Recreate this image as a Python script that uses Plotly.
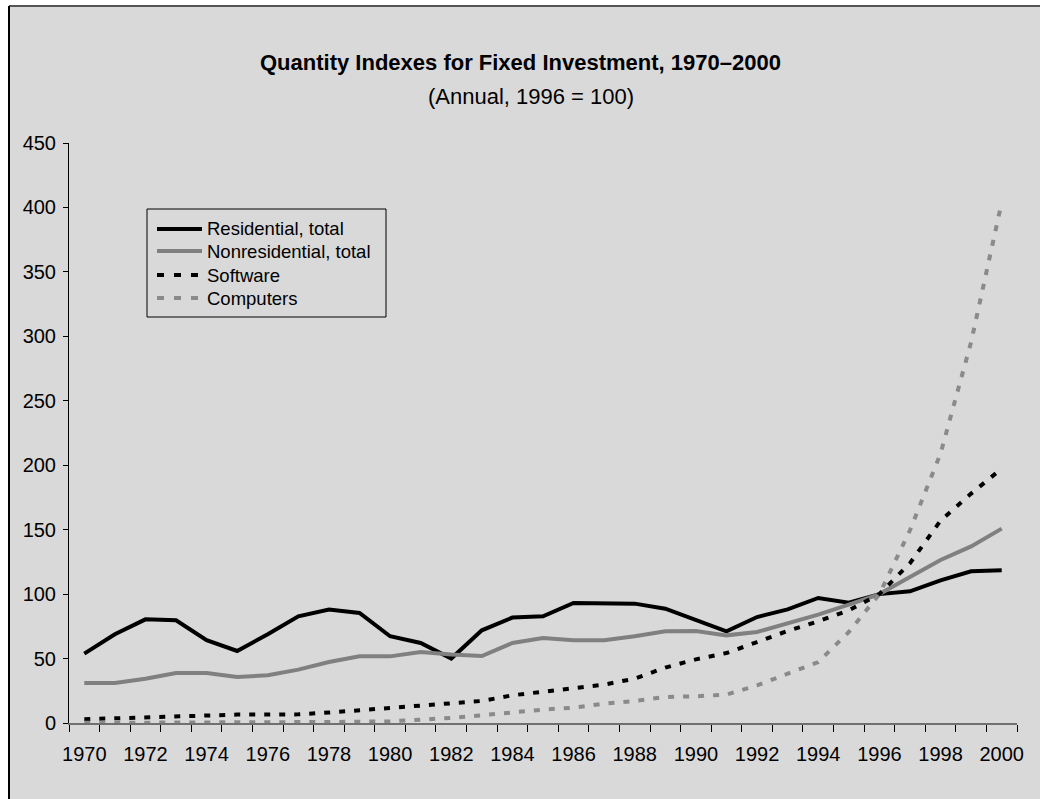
import plotly.graph_objects as go

years = list(range(1970, 2001))

residential = [53.8, 68.8, 80.4, 79.7, 64.2, 55.9, 68.8, 82.8, 88.0, 85.4,
               67.3, 62.1, 50.0, 71.9, 81.8, 82.8, 93.1, 93.1, 92.6, 88.7,
               80.0, 71.1, 82.2, 88.2, 97.0, 93.4, 100.0, 102.2, 110.7, 117.7,
               118.5]
nonresidential = [31.0, 31.0, 34.4, 38.8, 38.8, 35.7, 37.0, 41.4, 47.3, 51.7,
                  51.7, 55.1, 53.1, 52.0, 62.1, 66.0, 64.2, 64.2, 67.3, 71.1,
                  71.4, 68.0, 70.6, 77.1, 84.1, 91.8, 100.0, 113.3, 126.5, 137.0,
                  150.8]
software = [2.9, 3.6, 4.2, 5.2, 5.7, 6.5, 6.5, 6.7, 8.1, 9.9,
            11.6, 13.2, 15.0, 17.1, 21.5, 24.1, 26.7, 29.8, 34.4, 43.0,
            49.4, 54.3, 62.8, 71.4, 78.9, 87.4, 100.0, 124.0, 157.0, 178.0,
            197.4]
computers = [0.1, 0.1, 0.2, 0.2, 0.3, 0.3, 0.4, 0.6, 0.8, 1.0,
             1.3, 2.6, 3.9, 6.0, 8.5, 10.4, 11.9, 15.0, 17.1, 20.2,
             20.7, 22.0, 29.2, 38.3, 47.3, 70.6, 100.0, 149.5, 209.0, 295.6,
             404.0]

series_names = ["Residential, total", "Nonresidential, total", "Software", "Computers"]
series_values = [residential, nonresidential, software, computers]
series_colors = ["black", "#808080", "black", "#8a8a8a"]
series_dash = ["solid", "solid", "6px,9px", "6px,9px"]
legend_dash = ["solid", "solid", "7px,10px", "7px,10px"]

x_tick_vals = list(range(1970, 2001, 2))
x_tick_text = [str(v) for v in x_tick_vals]
y_tick_vals = list(range(0, 451, 50))

FONT = "Liberation Sans, Arial, sans-serif"
BG = "#d9d9d9"

fig = go.Figure()
for name, vals, col, dash in zip(series_names, series_values, series_colors, series_dash):
    fig.add_trace(go.Scatter(x=years, y=vals, mode="lines", name=name, showlegend=False,
                             line=dict(color=col, width=4, dash=dash)))

W, H = 1040, 799
ml, mr, mt, mb = 69, 23, 143, 76
pw, ph = W - ml - mr, H - mt - mb


def px_x(p):
    return (p - ml) / pw


def px_y(p):
    return (H - mb - p) / ph


shapes = [
    dict(type="rect", xref="paper", yref="paper", x0=px_x(9), x1=px_x(W + 5),
         y0=px_y(H + 5), y1=px_y(6), fillcolor=BG, line=dict(width=0), layer="below"),
    dict(type="line", xref="paper", yref="paper", x0=px_x(9), x1=px_x(W + 5),
         y0=px_y(6), y1=px_y(6), line=dict(color="#555555", width=2), layer="below"),
    dict(type="line", xref="paper", yref="paper", x0=px_x(9), x1=px_x(9),
         y0=px_y(6), y1=px_y(H + 5), line=dict(color="black", width=2), layer="below"),
    # legend frame
    dict(type="rect", xref="paper", yref="paper", x0=px_x(147), x1=px_x(386),
         y0=px_y(317), y1=px_y(209), line=dict(color="black", width=1),
         fillcolor="rgba(0,0,0,0)", layer="above"),
]

annotations = [
    dict(text="<b>Quantity Indexes for Fixed Investment, 1970\u20132000</b>",
         xref="paper", yref="paper", x=px_x(520), y=px_y(62), xanchor="center", yanchor="middle",
         showarrow=False, font=dict(family=FONT, size=22, color="black")),
    dict(text="(Annual, 1996 = 100)",
         xref="paper", yref="paper", x=px_x(531), y=px_y(96), xanchor="center", yanchor="middle",
         showarrow=False, font=dict(family=FONT, size=22, color="black")),
]

legend_rows = [229, 251, 275, 298]
for name, col, dash, row in zip(series_names, series_colors, legend_dash, legend_rows):
    shapes.append(dict(type="line", xref="paper", yref="paper", x0=px_x(157), x1=px_x(202),
                       y0=px_y(row), y1=px_y(row), line=dict(color=col, width=4, dash=dash),
                       layer="above"))
    annotations.append(dict(text=name, xref="paper", yref="paper", x=px_x(205), y=px_y(row),
                            xanchor="left", yanchor="middle", showarrow=False,
                            font=dict(family=FONT, size=18.5, color="black")))

fig.update_layout(
    width=W, height=H,
    margin=dict(l=ml, r=mr, t=mt, b=mb, autoexpand=False),
    paper_bgcolor="white", plot_bgcolor="rgba(0,0,0,0)",
    font=dict(family=FONT, size=18, color="black"),
    shapes=shapes, annotations=annotations,
    showlegend=False,
)
fig.update_xaxes(range=[1969.5, 2000.5], tickmode="array", tickvals=x_tick_vals,
                 ticktext=x_tick_text, ticks="", showgrid=False, zeroline=False,
                 showline=True, linecolor="#707070", linewidth=2,
                 ticklabelstandoff=12,
                 minor=dict(tick0=1969.5, dtick=1, ticks="outside", ticklen=7,
                            tickcolor="black", tickwidth=1, showgrid=False),
                 tickfont=dict(family=FONT, size=20, color="black"))
fig.update_yaxes(range=[0, 450], tickmode="array", tickvals=y_tick_vals,
                 ticks="outside", ticklen=5, tickcolor="black", tickwidth=1,
                 ticklabelstandoff=3,
                 showgrid=False, zeroline=False, showline=True, linecolor="black",
                 linewidth=1, tickfont=dict(family=FONT, size=20, color="black"))

fig.write_html("out.html", config={"displayModeBar": False},
               post_script="document.body.style.margin='0';document.body.style.overflow='hidden';")
